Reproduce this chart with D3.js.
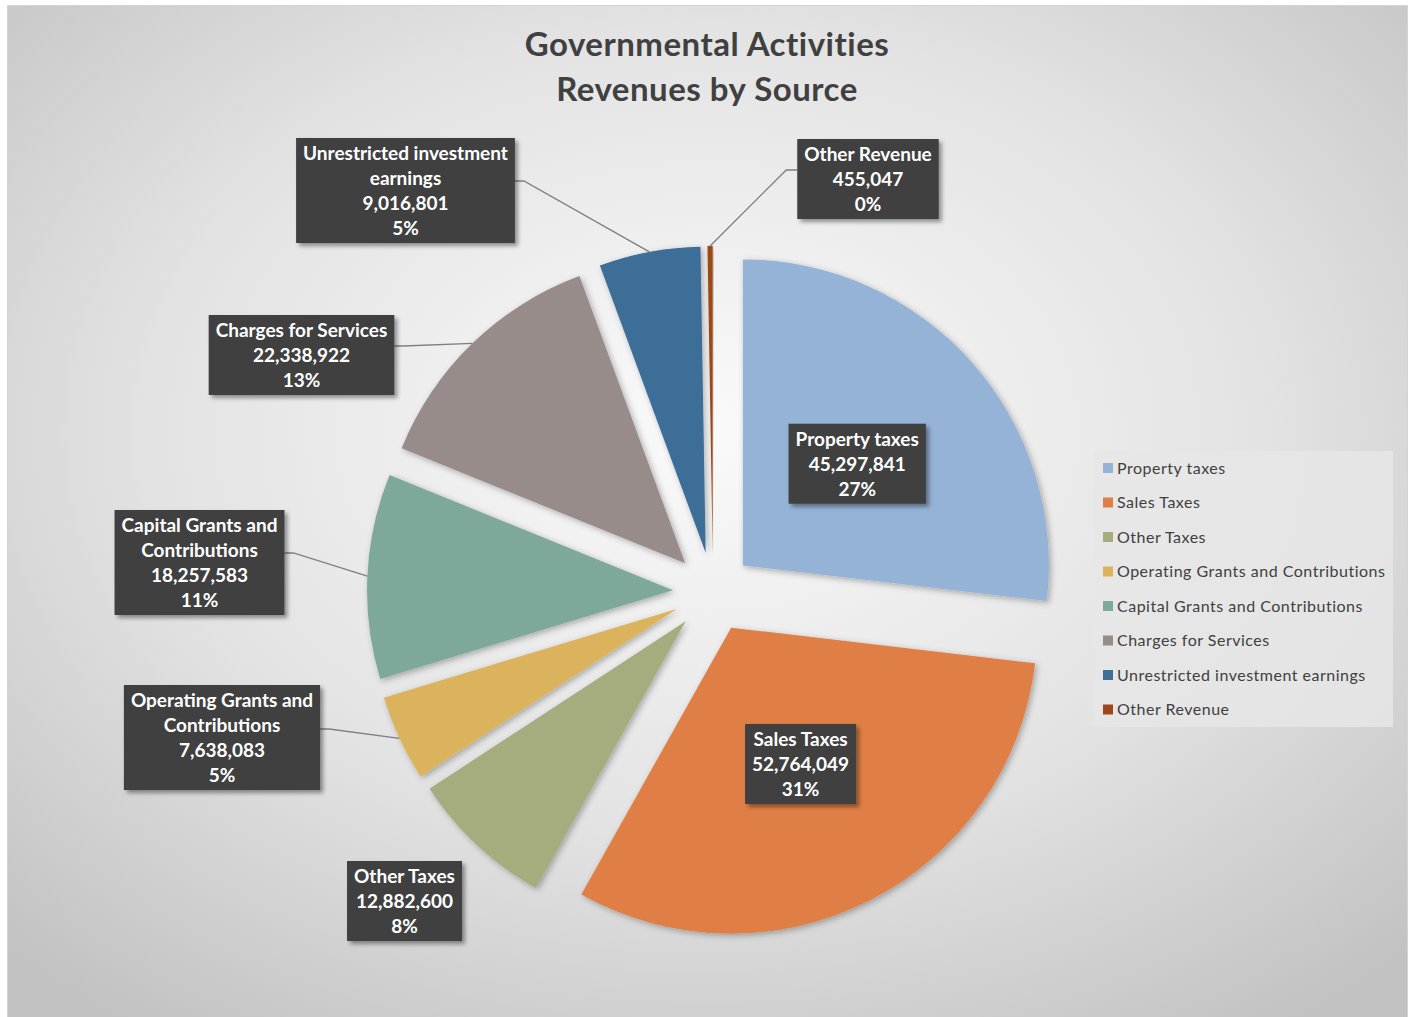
<!DOCTYPE html>
<html>
<head>
<meta charset="utf-8">
<script src="https://cdn.jsdelivr.net/npm/d3@7"></script>
<style>
  html, body { margin: 0; padding: 0; background: #ffffff; }
  svg { display: block; }
  text { font-family: Lato, "Open Sans", sans-serif; }
</style>
</head>
<body>
<svg id="chart" width="1414" height="1017"></svg>
<script>
// Revenue sources and amounts
const categories = [
  "Property taxes",
  "Sales Taxes",
  "Other Taxes",
  "Operating Grants and Contributions",
  "Capital Grants and Contributions",
  "Charges for Services",
  "Unrestricted investment earnings",
  "Other Revenue"
];
const amounts = [45297841, 52764049, 12882600, 7638083, 18257583, 22338922, 9016801, 455047];
const colors = ["#95B3D7", "#E07F45", "#A5AD7F", "#DBB35B", "#7EA99A", "#978C8A", "#3E6E98", "#9C4818"];
const titleLines = ["Governmental Activities", "Revenues by Source"];

// Wrapped category names used inside the data labels
const labelNames = [
  ["Property taxes"],
  ["Sales Taxes"],
  ["Other Taxes"],
  ["Operating Grants and", "Contributions"],
  ["Capital Grants and", "Contributions"],
  ["Charges for Services"],
  ["Unrestricted investment", "earnings"],
  ["Other Revenue"]
];

// Label placement: "inside" labels sit on the slice centroid, others are boxed
// callouts at a fixed spot with a leader line to the slice edge.
const labelLayout = [
  { mode: "inside" },
  { mode: "inside" },
  { mode: "outside", cx: 404.5, top: 861, leader: null },
  { mode: "outside", cx: 222, top: 685, leader: { side: "right", y: 729 } },
  { mode: "outside", cx: 199.5, top: 510, leader: { side: "right", y: 553 } },
  { mode: "outside", cx: 301.5, top: 315, leader: { side: "right", y: 346 } },
  { mode: "outside", cx: 405.5, top: 138, leader: { side: "right", y: 181 } },
  { mode: "outside", cx: 868, top: 139, leader: { side: "left", y: 170 } }
];

const W = 1414, H = 1017;
const svg = d3.select("#chart");
const defs = svg.append("defs");

// Chart area background: soft radial light
const grad = defs.append("radialGradient")
  .attr("id", "bg").attr("cx", "50%").attr("cy", "42%").attr("r", "72%");
grad.append("stop").attr("offset", "0%").attr("stop-color", "#fafafa");
grad.append("stop").attr("offset", "55%").attr("stop-color", "#e3e3e3");
grad.append("stop").attr("offset", "100%").attr("stop-color", "#c2c2c2");

const sliceShadow = defs.append("filter").attr("id", "sliceShadow")
  .attr("x", "-20%").attr("y", "-20%").attr("width", "140%").attr("height", "140%");
sliceShadow.append("feDropShadow").attr("dx", 2).attr("dy", 2)
  .attr("stdDeviation", 3).attr("flood-color", "#000").attr("flood-opacity", 0.3);

const boxShadow = defs.append("filter").attr("id", "boxShadow")
  .attr("x", "-20%").attr("y", "-20%").attr("width", "140%").attr("height", "140%");
boxShadow.append("feDropShadow").attr("dx", 3).attr("dy", 3)
  .attr("stdDeviation", 2).attr("flood-color", "#000").attr("flood-opacity", 0.4);

svg.append("rect")
  .attr("x", 7.5).attr("y", 5.5).attr("width", 1400).attr("height", 1012)
  .attr("fill", "url(#bg)").attr("stroke", "#d4d4d4").attr("stroke-width", 1);

// Title
svg.append("g").selectAll("text").data(titleLines).join("text")
  .attr("x", 707).attr("y", (d, i) => 56 + i * 45)
  .attr("text-anchor", "middle")
  .attr("font-size", 33).attr("font-weight", 700).attr("fill", "#404040")
  .attr("letter-spacing", 0.5)
  .text(d => d);

// Pie geometry
const cx = 713, cy = 592, radius = 306, explode = 40;
const total = d3.sum(amounts);
const data = categories.map((c, i) => ({ name: c, value: amounts[i], color: colors[i], i }));
const pie = d3.pie().value(d => d.value).sort(null);
const arcs = pie(data);
const arc = d3.arc().innerRadius(0).outerRadius(radius);

function offsetOf(a) {
  const mid = (a.startAngle + a.endAngle) / 2;
  return [Math.sin(mid) * explode, -Math.cos(mid) * explode];
}
function polar(a, r) {
  const mid = (a.startAngle + a.endAngle) / 2;
  const [ox, oy] = offsetOf(a);
  return [cx + ox + Math.sin(mid) * r, cy + oy - Math.cos(mid) * r];
}

const pieG = svg.append("g").attr("transform", `translate(${cx},${cy})`);
pieG.selectAll("path").data(arcs).join("path")
  .attr("transform", d => `translate(${offsetOf(d).join(",")})`)
  .attr("d", arc)
  .attr("fill", d => d.data.color)
  .attr("filter", "url(#sliceShadow)");

// Data labels
const fmt = d3.format(",");
const pct = v => Math.round(v / total * 100) + "%";
const lineH = 25, fontSize = 19, padX = 7, padY = 4;
const labelG = svg.append("g");

arcs.forEach((a, i) => {
  const lay = labelLayout[i];
  const lines = [...labelNames[i], fmt(a.data.value), pct(a.data.value)];
  const boxH = lines.length * lineH + padY * 2 - 3;
  let bx, top;
  if (lay.mode === "inside") {
    const [px, py] = polar(a, radius / 2);
    bx = px; top = py - boxH / 2;
  } else {
    bx = lay.cx; top = lay.top;
  }
  const g = labelG.append("g");
  const rect = g.append("rect").attr("fill", "#404040").attr("filter", "url(#boxShadow)");
  const txt = g.append("g");
  lines.forEach((l, k) => {
    txt.append("text")
      .attr("x", bx).attr("y", top + padY + k * lineH + 18)
      .attr("text-anchor", "middle")
      .attr("font-size", fontSize).attr("font-weight", 700).attr("fill", "#ffffff")
      .text(l);
  });
  const w = d3.max(txt.selectAll("text").nodes(), n => n.getComputedTextLength()) + padX * 2;
  rect.attr("x", bx - w / 2).attr("y", top).attr("width", w).attr("height", boxH);

  if (lay.mode === "outside" && lay.leader) {
    const end = polar(a, radius);
    const sx = lay.leader.side === "right" ? bx + w / 2 : bx - w / 2;
    const elbow = lay.leader.side === "right" ? sx + 9 : sx - 11;
    labelG.insert("path", ":first-child")
      .attr("d", d3.line()([[sx, lay.leader.y], [elbow, lay.leader.y], end]))
      .attr("fill", "none").attr("stroke", "#7f7f7f").attr("stroke-width", 1.3);
  }
});

// Legend
const legX = 1093, legY = 451, legW = 300, legH = 276, step = 34.5;
const legG = svg.append("g");
legG.append("rect").attr("x", legX).attr("y", legY).attr("width", legW).attr("height", legH)
  .attr("fill", "#e6e6e6").attr("fill-opacity", 0.85);
const items = legG.selectAll("g.item").data(data).join("g").attr("class", "item")
  .attr("transform", (d, i) => `translate(${legX + 10},${legY + 17 + i * step})`);
items.append("rect").attr("x", 0).attr("y", -5).attr("width", 10).attr("height", 10)
  .attr("fill", d => d.color);
items.append("text").attr("x", 14).attr("y", 5.5)
  .attr("font-size", 16).attr("fill", "#404040").attr("letter-spacing", 0.5)
  .text(d => d.name);
</script>
</body>
</html>
